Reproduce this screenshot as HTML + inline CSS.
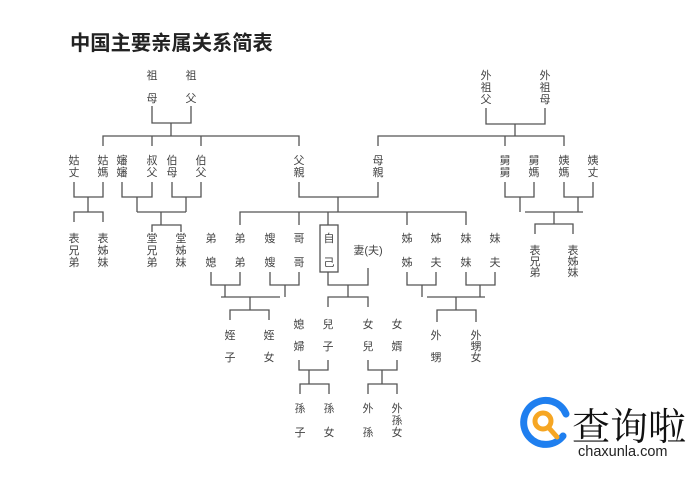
<!DOCTYPE html>
<html><head><meta charset="utf-8"><style>
html,body{margin:0;padding:0;background:#fff;}
svg{display:block;}
text{font-family:"Liberation Sans","Noto Sans CJK TC",sans-serif;}
.t{font-size:11px;fill:#444;text-anchor:middle;}
</style></head><body>
<svg width="692" height="482" viewBox="0 0 692 482" xmlns="http://www.w3.org/2000/svg">
<text x="70" y="50" style="font-size:20.3px;font-weight:bold;fill:#222;font-family:'Liberation Sans','Noto Sans CJK SC',sans-serif">中国主要亲属关系简表</text>
<g stroke="#555" stroke-width="1.3" fill="none">
<path d="M152 106V123H191V106M171 123V136"/>
<path d="M103 146V136H299V146M152 136V146M201 136V146"/>
<path d="M486 108V124H545V108M515 124V136"/>
<path d="M378 146V136H564V146M505 136V146"/>
<path d="M74 182V197H103V182M88 197V212"/>
<path d="M74 222V212H103V222"/>
<path d="M122 182V197H152V182M137 197V212"/>
<path d="M172 182V197H201V182M186 197V212"/>
<path d="M137 212H186M161 212V225M152 232V225H181V232"/>
<path d="M299 182V197H378V182M338 197V212"/>
<path d="M240 225V212H466V225M299 212V225M328 212V225M407 212V225"/>
<path d="M505 182V197H534V182M520 197V212"/>
<path d="M564 182V197H593V182M578 197V212"/>
<path d="M525 212H583M554 212V224M535 234V224H573V234"/>
<rect x="320" y="225" width="18" height="47"/>
<path d="M211 272V285H240V272M225 285V297"/>
<path d="M270 272V285H299V272M285 285V297"/>
<path d="M221 297H280M250 297V310M230 320V310H269V320"/>
<path d="M328 272V285H368V268M348 285V297M328 307V297H368V307"/>
<path d="M407 272V285H436V272M422 285V297"/>
<path d="M466 272V285H495V272M480 285V297"/>
<path d="M427 297H485M456 297V310M437 322V310H476V322"/>
<path d="M299 360V370H328V360M309 370V384M300 394V384H329V394"/>
<path d="M368 360V370H397V360M382 370V384M368 394V384H397V394"/>
</g>
<g class="t">
<text x="152" y="79">祖</text><text x="152" y="102">母</text>
<text x="191" y="79">祖</text><text x="191" y="102">父</text>
<text x="486" y="79">外</text><text x="486" y="91">祖</text><text x="486" y="103">父</text>
<text x="545" y="79">外</text><text x="545" y="91">祖</text><text x="545" y="103">母</text>
<text x="74" y="164">姑</text><text x="74" y="176">丈</text>
<text x="103" y="164">姑</text><text x="103" y="176">媽</text>
<text x="122" y="164">嬸</text><text x="122" y="176">嬸</text>
<text x="152" y="164">叔</text><text x="152" y="176">父</text>
<text x="172" y="164">伯</text><text x="172" y="176">母</text>
<text x="201" y="164">伯</text><text x="201" y="176">父</text>
<text x="299" y="164">父</text><text x="299" y="176">親</text>
<text x="378" y="164">母</text><text x="378" y="176">親</text>
<text x="505" y="164">舅</text><text x="505" y="176">舅</text>
<text x="534" y="164">舅</text><text x="534" y="176">媽</text>
<text x="564" y="164">姨</text><text x="564" y="176">媽</text>
<text x="593" y="164">姨</text><text x="593" y="176">丈</text>
<text x="74" y="242">表</text><text x="74" y="254">兄</text><text x="74" y="266">弟</text>
<text x="103" y="242">表</text><text x="103" y="254">姊</text><text x="103" y="266">妹</text>
<text x="152" y="242">堂</text><text x="152" y="254">兄</text><text x="152" y="266">弟</text>
<text x="181" y="242">堂</text><text x="181" y="254">姊</text><text x="181" y="266">妹</text>
<text x="535" y="254">表</text><text x="535" y="265">兄</text><text x="535" y="276">弟</text>
<text x="573" y="254">表</text><text x="573" y="265">姊</text><text x="573" y="276">妹</text>
<text x="211" y="242">弟</text><text x="211" y="266">媳</text>
<text x="240" y="242">弟</text><text x="240" y="266">弟</text>
<text x="270" y="242">嫂</text><text x="270" y="266">嫂</text>
<text x="299" y="242">哥</text><text x="299" y="266">哥</text>
<text x="329" y="242">自</text><text x="329" y="266">己</text>
<text x="368" y="254">妻(夫)</text>
<text x="407" y="242">姊</text><text x="407" y="266">姊</text>
<text x="436" y="242">姊</text><text x="436" y="266">夫</text>
<text x="466" y="242">妹</text><text x="466" y="266">妹</text>
<text x="495" y="242">妹</text><text x="495" y="266">夫</text>
<text x="230" y="339">姪</text><text x="230" y="361">子</text>
<text x="269" y="339">姪</text><text x="269" y="361">女</text>
<text x="299" y="328">媳</text><text x="299" y="350">婦</text>
<text x="328" y="328">兒</text><text x="328" y="350">子</text>
<text x="368" y="328">女</text><text x="368" y="350">兒</text>
<text x="397" y="328">女</text><text x="397" y="350">婿</text>
<text x="436" y="339">外</text><text x="436" y="361">甥</text>
<text x="476" y="339">外</text><text x="476" y="350">甥</text><text x="476" y="361">女</text>
<text x="300" y="412">孫</text><text x="300" y="436">子</text>
<text x="329" y="412">孫</text><text x="329" y="436">女</text>
<text x="368" y="412">外</text><text x="368" y="436">孫</text>
<text x="397" y="412">外</text><text x="397" y="424">孫</text><text x="397" y="436">女</text>
</g>
<path d="M563 436 A22 22 0 1 1 566 414" stroke="#1f7fef" stroke-width="7" fill="none" stroke-linecap="round"/>
<circle cx="543" cy="421" r="8" stroke="#f6a623" stroke-width="5" fill="none"/>
<path d="M549 428 L557 437" stroke="#f6a623" stroke-width="5" stroke-linecap="round"/>
<text x="572" y="440" style="font-size:38px;fill:#111;font-family:'Noto Serif CJK SC','Liberation Serif',serif">查询啦</text>
<text x="578" y="456" style="font-size:14.5px;fill:#222">chaxunla.com</text>
</svg>
</body></html>
